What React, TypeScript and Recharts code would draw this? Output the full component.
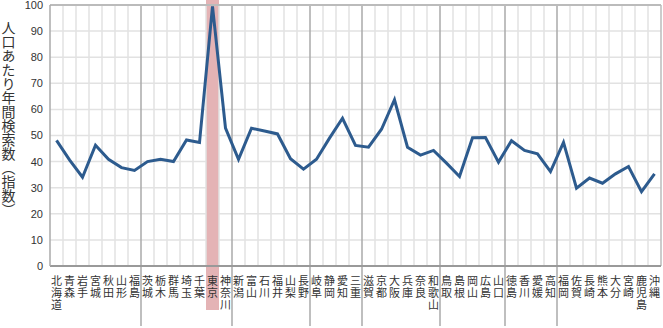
import {
  ComposedChart,
  Line,
  XAxis,
  YAxis,
  CartesianGrid,
  ReferenceLine,
  ReferenceArea,
  Label,
} from "recharts";

const prefectures = [
  "北海道", "青森", "岩手", "宮城", "秋田", "山形", "福島",
  "茨城", "栃木", "群馬", "埼玉", "千葉", "東京", "神奈川",
  "新潟", "富山", "石川", "福井", "山梨", "長野",
  "岐阜", "静岡", "愛知", "三重",
  "滋賀", "京都", "大阪", "兵庫", "奈良", "和歌山",
  "鳥取", "島根", "岡山", "広島", "山口",
  "徳島", "香川", "愛媛", "高知",
  "福岡", "佐賀", "長崎", "熊本", "大分", "宮崎", "鹿児島", "沖縄",
];

const searchIndex = [
  48.1, 40.7, 34.0, 46.3, 40.9, 37.7, 36.6,
  40.0, 40.9, 40.0, 48.3, 47.3, 99.5, 52.8,
  40.9, 52.8, 51.7, 50.6, 41.1, 37.1,
  40.9, 49.0, 56.6, 46.2,
  45.5, 52.4, 63.7, 45.5, 42.5, 44.3,
  39.4, 34.3, 49.1, 49.2, 39.8,
  48.0, 44.3, 43.0, 36.2,
  47.4, 29.8, 33.7, 31.7, 35.3, 38.1, 28.5, 35.3,
];

// index where each region block ends
const regionBreaks = [7, 14, 20, 24, 30, 35, 39];
const highlighted = "東京";
const yTicks = [0, 10, 20, 30, 40, 50, 60, 70, 80, 90, 100];
const yTitle = "人口あたり年間検索数（指数）";

const n = prefectures.length;
const data = prefectures.map((name, i) => ({
  pos: i + 0.5,
  name,
  value: searchIndex[i],
}));
// light lines between every prefecture (region breaks get the darker line)
const cellLines = Array.from({ length: n - 1 }, (_, i) => i + 1).filter(
  (b) => !regionBreaks.includes(b)
);
const labelTicks = data.map((d) => d.pos);
const hiIdx = prefectures.indexOf(highlighted);

const jpFont = '"Noto Sans CJK JP", sans-serif';

// prefecture name written top-to-bottom, one character per line
function PrefTick(props: any) {
  const { x, y, payload } = props;
  const name = prefectures[Math.floor(payload.value)] ?? "";
  return (
    <g>
      {name.split("").map((ch, i) => (
        <text
          key={i}
          x={x}
          y={y + 10.5 + i * 12.4}
          textAnchor="middle"
          fontSize={11}
          fill="#333"
          fontFamily={jpFont}
        >
          {ch}
        </text>
      ))}
    </g>
  );
}

function TitleLabel() {
  return (
    <text
      x={8.5}
      y={21}
      fontSize={14}
      fill="#333"
      fontFamily={jpFont}
      style={{ writingMode: "vertical-rl" as any }}
    >
      {yTitle}
    </text>
  );
}

function Band(props: any) {
  const { x, width } = props;
  return <rect x={x} y={0} width={width} height={310} fill="#e4b3b5" />;
}

// region separator, carried on below the axis through the label area
function Separator(props: any) {
  const { x1, x2, y1, y2 } = props;
  const top = Math.min(y1, y2);
  const bottom = Math.max(y1, y2);
  return <line x1={x1} x2={x2} y1={top} y2={bottom + 60} stroke="#aaa" strokeWidth={1.5} />;
}

export default function App() {
  return (
    <div style={{ position: "absolute", left: 0, top: 0, background: "#fff" }}>
      <ComposedChart
        width={663}
        height={328}
        data={data}
        margin={{ top: 5, right: 2, bottom: 0, left: 0 }}
      >
        <XAxis
          type="number"
          dataKey="pos"
          domain={[0, n]}
          ticks={labelTicks}
          interval={0}
          height={62}
          tickLine={false}
          axisLine={{ stroke: "#999", strokeWidth: 2 }}
          tick={<PrefTick />}
        />
        <YAxis
          type="number"
          domain={[0, 100]}
          ticks={yTicks}
          interval={0}
          width={50}
          tickLine={false}
          tickMargin={1}
          axisLine={{ stroke: "#aaa", strokeWidth: 1.5 }}
          tick={{ fill: "#333", fontSize: 11, fontFamily: '"Liberation Sans", Arial, sans-serif' }}
        >
          <Label content={<TitleLabel />} />
        </YAxis>
        <CartesianGrid vertical={false} stroke="#e2e2e2" strokeWidth={1.5} />
        {cellLines.map((b) => (
          <ReferenceLine key={`c${b}`} x={b} stroke="#e2e2e2" strokeWidth={1.5} />
        ))}
        <ReferenceArea x1={hiIdx} x2={hiIdx + 1} ifOverflow="visible" shape={<Band />} />
        {regionBreaks.map((b) => (
          <ReferenceLine
            key={b}
            x={b}
            ifOverflow="visible"
            shape={(p: any) => <Separator {...p} />}
          />
        ))}
        <ReferenceLine y={100} stroke="#bbb" strokeWidth={2} />
        <ReferenceLine x={n} stroke="#bbb" strokeWidth={1.5} />
        <Line
          type="linear"
          dataKey="value"
          stroke="#2d5b8e"
          strokeWidth={3}
          dot={false}
          isAnimationActive={false}
        />
      </ComposedChart>
    </div>
  );
}
